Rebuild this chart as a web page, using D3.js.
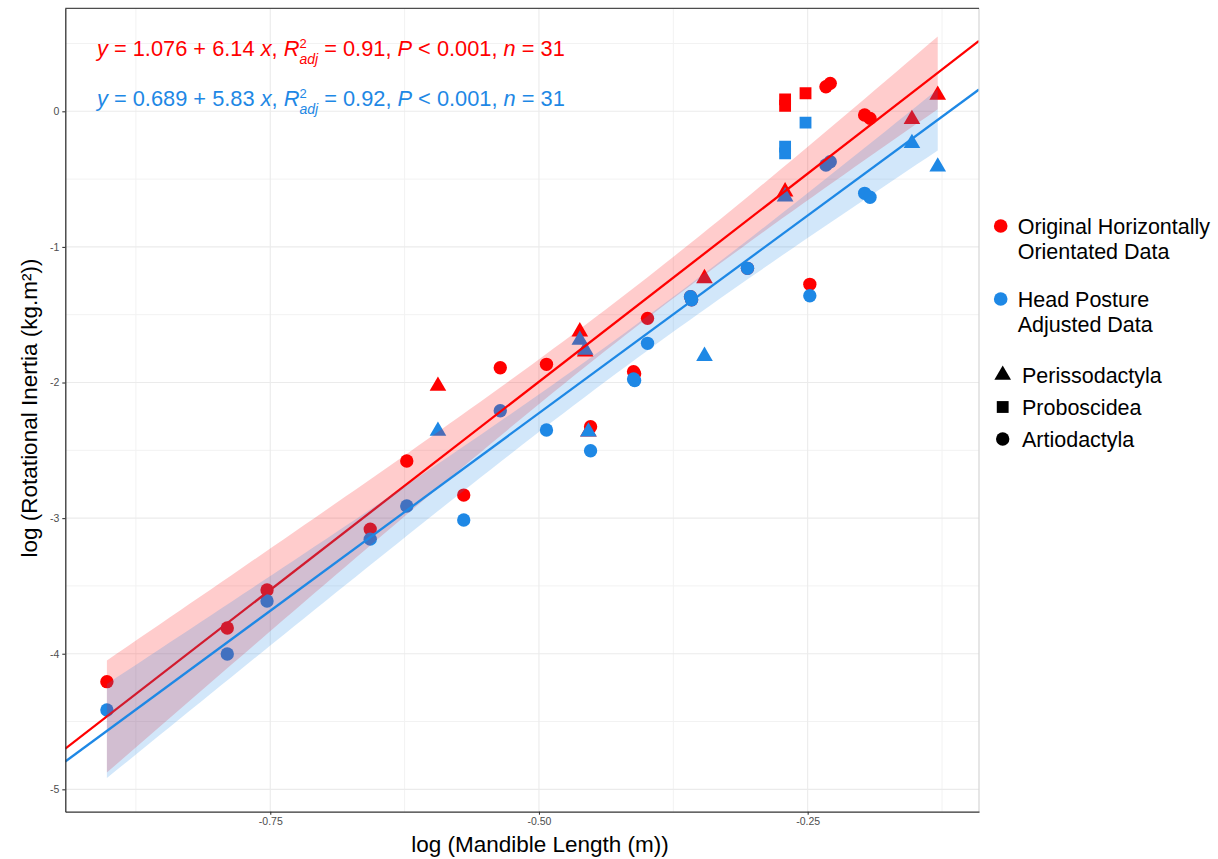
<!DOCTYPE html>
<html>
<head>
<meta charset="utf-8">
<script src="https://cdn.jsdelivr.net/npm/d3@7"></script>
<style>
  html, body { margin: 0; padding: 0; background: #fff; }
  svg { display: block; font-family: "Liberation Sans", Arial, Helvetica, sans-serif; }
  text { white-space: pre; }
</style>
</head>
<body>
<svg id="chart" width="1218" height="859"></svg>
<script>
// log10 mandible length (m) for each specimen
const mandibleLog = [
  -0.902, -0.790, -0.753, -0.657, -0.623, -0.570, -0.594, -0.536, -0.493, -0.462,
  -0.457, -0.454, -0.452, -0.412, -0.411, -0.399, -0.359, -0.358, -0.306, -0.346,
  -0.271, -0.271, -0.252, -0.271, -0.248, -0.233, -0.229, -0.197, -0.192, -0.153,
  -0.129
];
// log10 rotational inertia, horizontally orientated head
const inertiaOriginal = [
  -4.206, -3.810, -3.530, -3.081, -2.579, -2.830, -2.026, -1.891, -1.866, -1.625,
  -1.773, -2.363, -2.326, -1.920, -1.935, -1.527, -1.367, -1.390, -1.158, -1.232,
   0.088,  0.041,  0.133, -0.593, -1.276,  0.181,  0.206, -0.027, -0.052, -0.059,
   0.120
];
// log10 rotational inertia, adjusted for habitual head posture
const inertiaAdjusted = [
  -4.415, -4.002, -3.611, -3.155, -2.911, -3.014, -2.358, -2.208, -2.350, -1.687,
  -1.760, -2.363, -2.503, -1.974, -1.985, -1.711, -1.367, -1.390, -1.158, -1.805,
  -0.261, -0.310, -0.084, -0.630, -1.360, -0.396, -0.372, -0.605, -0.634, -0.236,
  -0.409
];
// taxonomic order of each specimen
const orderGroup = [
  "Artiodactyla", "Artiodactyla", "Artiodactyla", "Artiodactyla", "Artiodactyla", "Artiodactyla", "Perissodactyla", "Artiodactyla", "Artiodactyla", "Perissodactyla",
  "Perissodactyla", "Perissodactyla", "Artiodactyla", "Artiodactyla", "Artiodactyla", "Artiodactyla", "Artiodactyla", "Artiodactyla", "Artiodactyla", "Perissodactyla",
  "Proboscidea", "Proboscidea", "Proboscidea", "Perissodactyla", "Artiodactyla", "Artiodactyla", "Artiodactyla", "Artiodactyla", "Artiodactyla", "Perissodactyla",
  "Perissodactyla"
];

// fitted regressions (original, adjusted)
const seriesNames = ["Original Horizontally\nOrientated Data", "Head Posture\nAdjusted Data"];
const seriesColors = ["#FF0000", "#1E88E5"];
const fitIntercept = [1.076, 0.689];
const fitSlope = [6.14, 5.83];
const fitR2adj = [0.91, 0.92];
const fitP = ["< 0.001", "< 0.001"];
const fitN = [31, 31];

const orderNames = ["Perissodactyla", "Proboscidea", "Artiodactyla"];
const xTicks = [-0.75, -0.50, -0.25];
const xMinor = [-0.875, -0.625, -0.375, -0.125];
const yTicks = [0, -1, -2, -3, -4, -5];
const yMinor = [0.5, -0.5, -1.5, -2.5, -3.5, -4.5];

const svg = d3.select("#chart");
const W = 1218, H = 859;
svg.append("rect").attr("width", W).attr("height", H).attr("fill", "#fff");

const panel = { left: 65.3, right: 979, top: 8.3, bottom: 811.7 };
const x = d3.scaleLinear().domain([-0.9407, -0.0906]).range([panel.left, panel.right]);
const y = d3.scaleLinear().domain([-5.165, 0.7596]).range([panel.bottom, panel.top]);

svg.append("clipPath").attr("id", "clip")
  .append("rect")
  .attr("x", panel.left).attr("y", panel.top)
  .attr("width", panel.right - panel.left).attr("height", panel.bottom - panel.top);

// grid
const grid = svg.append("g");
grid.selectAll(".xmin").data(xMinor).join("line")
  .attr("x1", d => x(d)).attr("x2", d => x(d)).attr("y1", panel.top).attr("y2", panel.bottom)
  .attr("stroke", "#f2f2f2").attr("stroke-width", 1);
grid.selectAll(".ymin").data(yMinor).join("line")
  .attr("y1", d => y(d)).attr("y2", d => y(d)).attr("x1", panel.left).attr("x2", panel.right)
  .attr("stroke", "#f2f2f2").attr("stroke-width", 1);
grid.selectAll(".xmaj").data(xTicks).join("line")
  .attr("x1", d => x(d)).attr("x2", d => x(d)).attr("y1", panel.top).attr("y2", panel.bottom)
  .attr("stroke", "#ebebeb").attr("stroke-width", 1.1);
grid.selectAll(".ymaj").data(yTicks).join("line")
  .attr("y1", d => y(d)).attr("y2", d => y(d)).attr("x1", panel.left).attr("x2", panel.right)
  .attr("stroke", "#ebebeb").attr("stroke-width", 1.1);

// symbol generators per order
const symbolFor = {
  Perissodactyla: d3.symbol().type(d3.symbolTriangle).size(120),
  Proboscidea: d3.symbol().type(d3.symbolSquare).size(140),
  Artiodactyla: d3.symbol().type(d3.symbolCircle).size(140)
};

const seriesValues = [inertiaOriginal, inertiaAdjusted];
const plot = svg.append("g").attr("clip-path", "url(#clip)");

// points: original first, adjusted on top
seriesValues.forEach((vals, si) => {
  plot.append("g").selectAll("path").data(mandibleLog.map((m, i) => ({ m, v: vals[i], o: orderGroup[i] })))
    .join("path")
    .attr("transform", d => `translate(${x(d.m)},${y(d.v)})`)
    .attr("d", d => symbolFor[d.o]())
    .attr("fill", seriesColors[si]);
});

// 95% confidence band around the fitted line
const tCrit = 2.045; // t(0.975, df = 29)
function confidenceBand(xs, ys, a, b) {
  const n = xs.length;
  const xbar = d3.mean(xs);
  const sxx = d3.sum(xs, v => (v - xbar) ** 2);
  const sse = d3.sum(xs, (v, i) => (ys[i] - (a + b * v)) ** 2);
  const s = Math.sqrt(sse / (n - 2));
  const [lo, hi] = d3.extent(xs);
  return d3.range(0, 81).map(k => {
    const xv = lo + (hi - lo) * k / 80;
    const fit = a + b * xv;
    const se = s * Math.sqrt(1 / n + (xv - xbar) ** 2 / sxx);
    return { x: xv, lo: fit - tCrit * se, hi: fit + tCrit * se };
  });
}

const area = d3.area().x(d => x(d.x)).y0(d => y(d.lo)).y1(d => y(d.hi));
seriesValues.forEach((vals, si) => {
  const band = confidenceBand(mandibleLog, vals, fitIntercept[si], fitSlope[si]);
  plot.append("path").datum(band).attr("d", area)
    .attr("fill", seriesColors[si]).attr("fill-opacity", 0.2);
  const xd = x.domain();
  plot.append("line")
    .attr("x1", x(xd[0])).attr("y1", y(fitIntercept[si] + fitSlope[si] * xd[0]))
    .attr("x2", x(xd[1])).attr("y2", y(fitIntercept[si] + fitSlope[si] * xd[1]))
    .attr("stroke", seriesColors[si]).attr("stroke-width", 2.3);
});

// panel frame
svg.append("line").attr("x1", panel.right).attr("x2", panel.right).attr("y1", panel.top).attr("y2", panel.bottom)
  .attr("stroke", "#d6d6d6").attr("stroke-width", 1.2);
svg.append("line").attr("x1", panel.left).attr("x2", panel.right).attr("y1", panel.top).attr("y2", panel.top)
  .attr("stroke", "#4d4d4d").attr("stroke-width", 1.2);

// axes
const xAxis = svg.append("g").attr("transform", `translate(0,${panel.bottom})`)
  .call(d3.axisBottom(x).tickValues(xTicks).tickSizeInner(3).tickSizeOuter(0).tickPadding(3)
    .tickFormat(d => d.toFixed(2)));
const yAxis = svg.append("g").attr("transform", `translate(${panel.left},0)`)
  .call(d3.axisLeft(y).tickValues(yTicks).tickSizeInner(3).tickSizeOuter(0).tickPadding(3)
    .tickFormat(d => String(d)));
[xAxis, yAxis].forEach(g => {
  g.select(".domain").attr("stroke", "#333").attr("stroke-width", 1.3);
  g.selectAll(".tick line").attr("stroke", "#333").attr("stroke-width", 1.1);
  g.selectAll(".tick text").attr("fill", "#4d4d4d").attr("font-size", 10.5)
    .attr("font-family", "'Liberation Sans', Arial, sans-serif");
});

// axis titles
svg.append("text").attr("x", 540).attr("y", 852).attr("text-anchor", "middle")
  .attr("font-size", 22.5).attr("fill", "#000").text("log (Mandible Length (m))");
svg.append("text").attr("transform", "translate(37,408) rotate(-90)").attr("text-anchor", "middle")
  .attr("font-size", 22.5).attr("fill", "#000").text("log (Rotational Inertia (kg.m²))");

// regression equations
const eqBaselines = [56, 106];
seriesValues.forEach((vals, si) => {
  const t = svg.append("text").attr("x", 97).attr("y", eqBaselines[si])
    .attr("font-size", 21.8).attr("fill", seriesColors[si]);
  const it = s => t.append("tspan").attr("font-style", "italic").text(s);
  const up = s => t.append("tspan").text(s);
  it("y");
  up(` = ${fitIntercept[si].toFixed(3)} + ${fitSlope[si].toFixed(2)} `);
  it("x");
  up(", ");
  it("R");
  t.append("tspan").attr("font-size", 13).attr("dy", -8).text("2");
  t.append("tspan").attr("font-style", "italic").attr("font-size", 14)
    .attr("dx", -7.2).attr("dy", 16).text("adj");
  t.append("tspan").attr("dy", -8).text(` = ${fitR2adj[si].toFixed(2)}, `);
  it("P");
  up(` ${fitP[si]}, `);
  it("n");
  up(` = ${fitN[si]}`);
});

// legend: data series
const legend = svg.append("g");
const seriesLegendY = [226, 299];
seriesNames.forEach((name, i) => {
  legend.append("circle").attr("cx", 1000.7).attr("cy", seriesLegendY[i]).attr("r", 6.8)
    .attr("fill", seriesColors[i]);
  name.split("\n").forEach((line, j) => {
    legend.append("text").attr("x", 1017.7).attr("y", seriesLegendY[i] + 7.7 + j * 25.5)
      .attr("font-size", 21.5).attr("fill", "#000").text(line);
  });
});

// legend: taxonomic orders
const orderLegendY = [375, 407, 439];
orderNames.forEach((name, i) => {
  legend.append("path").attr("transform", `translate(1002.7,${orderLegendY[i]})`)
    .attr("d", symbolFor[name]()).attr("fill", "#000");
  legend.append("text").attr("x", 1022).attr("y", orderLegendY[i] + 7.7)
    .attr("font-size", 21.5).attr("fill", "#000").text(name);
});
</script>
</body>
</html>
